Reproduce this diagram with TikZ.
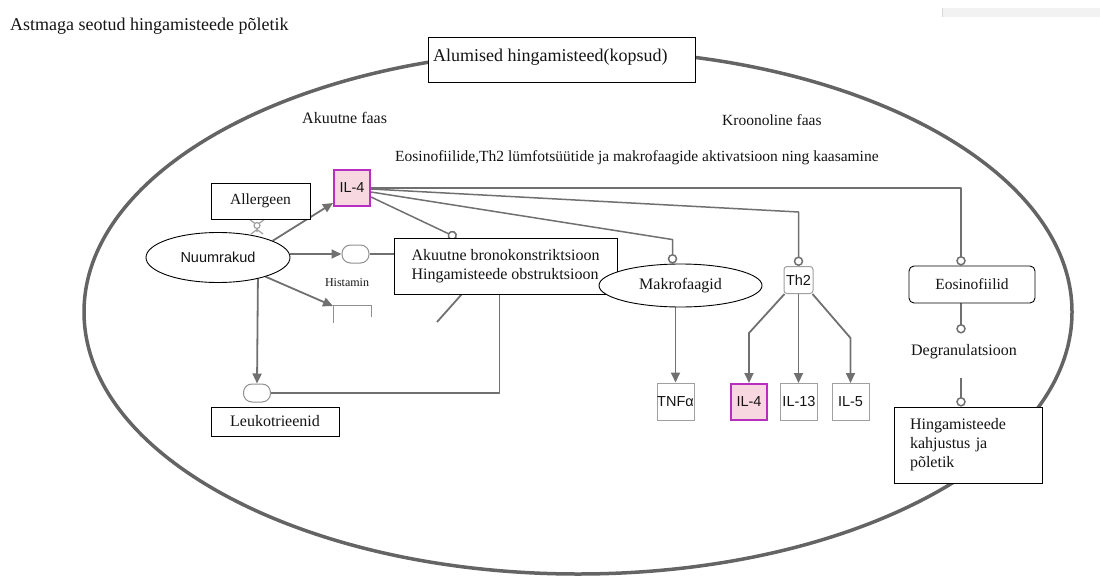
\documentclass[tikz,border=0pt]{standalone}
\usepackage{fontspec}
\setmainfont{Liberation Serif}
\setsansfont{Liberation Sans}
\usetikzlibrary{arrows.meta,shapes.geometric,calc}
\pgfdeclarelayer{bg}
\pgfsetlayers{bg,main}
\definecolor{cg}{HTML}{707070}
\definecolor{eg}{HTML}{646464}
\definecolor{pinkf}{HTML}{F7D8E0}
\definecolor{mag}{HTML}{B82FBF}
\definecolor{lb}{HTML}{A0A0A0}
\definecolor{capg}{HTML}{909090}
\definecolor{txt}{HTML}{141414}
\definecolor{barg}{HTML}{F2F2F2}
\begin{document}
\begin{tikzpicture}[x=1pt,y=-1pt,
  every node/.style={inner sep=0pt, text=txt},
  fbig/.style={font=\fontsize{18}{21}\selectfont},
  fmid/.style={font=\fontsize{16}{19}\selectfont},
  fsm/.style={font=\fontsize{15.5}{18}\selectfont},
  ftiny/.style={font=\fontsize{12}{14}\selectfont},
  fsans/.style={font=\sffamily\fontsize{14.5}{17}\selectfont},
  bbox/.style={draw=black, line width=0.9pt, fill=white, rectangle},
  gbox/.style={draw=lb, line width=1pt, fill=white, rectangle, minimum width=37, minimum height=37, fsans},
  ilbox/.style={draw=mag, line width=2pt, fill=pinkf, rectangle, minimum width=36, minimum height=36, fsans},
  caps/.style={draw=capg, line width=1pt, fill=white, rectangle, rounded corners=8.5pt, minimum width=27, minimum height=18},
  arr/.style={draw=cg, line width=1.8pt, line join=round, -{Triangle[length=10pt,width=9pt]}},
  circ/.style={draw=cg, line width=1.5pt, line join=round, -{Circle[open,length=9.5pt,width=9.5pt]}},
  ln/.style={draw=cg, line width=1.8pt, line join=round},
]
\useasboundingbox (0,0) rectangle (1100,586);

% title and header
\node[fbig, anchor=base west] (title) at (10,31) {Astmaga seotud hingamisteede põletik};
\node[bbox, minimum width=267, minimum height=45, anchor=north west] (alumbox) at (428,37) {};
\node[fbig, anchor=base west] (alum) at (433,62) {Alumised hingamisteed(kopsud)};
\node[fmid, anchor=base west] (akf) at (302,123) {Akuutne faas};
\node[fsm, anchor=base west] (krf) at (722,125) {Kroonoline faas};
\node[fsm, anchor=base west] (eosl) at (395,161) {Eosinofiilide,Th2 lümfotsüütide ja makrofaagide aktivatsioon ning kaasamine};

% nodes
\node[ilbox] (il4) at (352,188) {IL-4};
\node[bbox, fsm, minimum width=99, minimum height=36] (allg) at (260.5,201) {Allergeen};
\node[ellipse, draw=black, line width=0.9pt, fill=white, minimum width=144, minimum height=50, fsans] (nuum) at (218,257.5) {Nuumrakud};
\node[caps] (hist) at (355.5,254) {};
\node[ftiny] (histl) at (347,283) {Histamin};
\node[bbox, fmid, align=left, minimum width=223, minimum height=56] (akut) at (505.5,266) {Akuutne bronokonstriktsioon\\Hingamisteede obstruktsioon};
\node[ellipse, draw=black, line width=0.9pt, fill=white, minimum width=163, minimum height=43, fmid] (makro) at (680.5,285.5) {Makrofaagid};
\node[draw=lb, line width=1pt, fill=white, rounded corners=3pt, minimum width=29, minimum height=27, fsans] (th2) at (798.5,280) {Th2};
\node[draw=black, line width=0.9pt, fill=white, rounded corners=5pt, minimum width=126, minimum height=37, fsm] (eos) at (972,284.5) {Eosinofiilid};
\node[fmid] (degr) at (964,352) {Degranulatsioon};
\node[bbox, fmid, align=left, text width=116, inner xsep=16pt, minimum height=76] (hing) at (968,445) {Hingamisteede\\kahjustus ja\\põletik};
\node[gbox] (tnf) at (675.5,401.5) {TNFα};
\node[ilbox] (il4b) at (749,402) {IL-4};
\node[gbox] (il13) at (799,402) {IL-13};
\node[gbox] (il5) at (850.5,402) {IL-5};
\node[caps] (lkc) at (257,393) {};
\node[bbox, fmid, minimum width=128, minimum height=29] (leuk) at (275,421.5) {Leukotrieenid};

\coordinate (pb) at (333,306);
\coordinate (cut) at (437,322);
\coordinate (ex) at (961,0);
\coordinate (rc) at (257,225.5);

\begin{pgfonlayer}{bg}
\fill[barg] (942,8) rectangle (1100,17);
\draw[gray!30, line width=0.8pt] (942,8) -- (942,17);
\draw[eg, line width=3.5pt] (578,312) ellipse [x radius=494pt, y radius=262pt];

% receptor glyph under Allergeen
\draw[lb, line width=1.2pt] (249,219) -- (255,223.5) (265,219) -- (259,223.5)
  (257,228.5) -- (257,232) (251,234) -- (257,229.5) -- (263,234);
\draw[lb, line width=1.2pt] (rc) circle (3pt);

% partial box (cut off in original)
\draw[capg, line width=1pt] (333,323) -- (333,305) -- (371,305) -- (371,317);

% connectors
\draw[arr] (nuum.17) -- ($(il4.south west)+(0,-4)$);
\draw[arr] (nuum.east |- hist.west) -- (hist.west);
\draw[ln] (hist.east) -- (hist.east -| akut.west);
\draw[arr] (nuum.-22) -- (pb);
\draw[arr] (nuum.-28) -- (lkc.north);
\draw[ln] (lkc.east) -| ($(akut.south west)+(106,0)$);
\draw[ln] ($(akut.south west)+(68,0)$) -- (cut);
\draw[circ] ($(il4.east)+(0,9)$) -- ($(akut.north west)+(63,0)$);
\draw[circ] ($(il4.east)+(0,4)$) -- ($(makro.north)+(-8,-24)$) -- ($(makro.north)+(-8,0)$);
\draw[circ] ($(il4.east)+(0,1)$) -- ($(th2.north)+(0,-54)$) -- (th2.north);
\draw[circ] (il4.east) -| ($(eos.north)+(-11,0)$);
\draw[circ, shorten >=11pt] (eos.south -| ex) -- (degr.north -| ex);
\draw[circ, shorten <=19pt] (degr.south -| ex) -- (hing.north -| ex);
\draw[arr] (makro.south -| tnf.north) -- (tnf.north);
\draw[arr] ($(th2.south west)+(1,0)$) -- ($(il4b.north)+(0,-50)$) -- (il4b.north);
\draw[arr] (th2.south) -- (th2.south |- il13.north);
\draw[arr] ($(th2.south east)+(-1,0)$) -- ($(il5.north)+(0,-45)$) -- (il5.north);
\end{pgfonlayer}
\end{tikzpicture}
\end{document}
